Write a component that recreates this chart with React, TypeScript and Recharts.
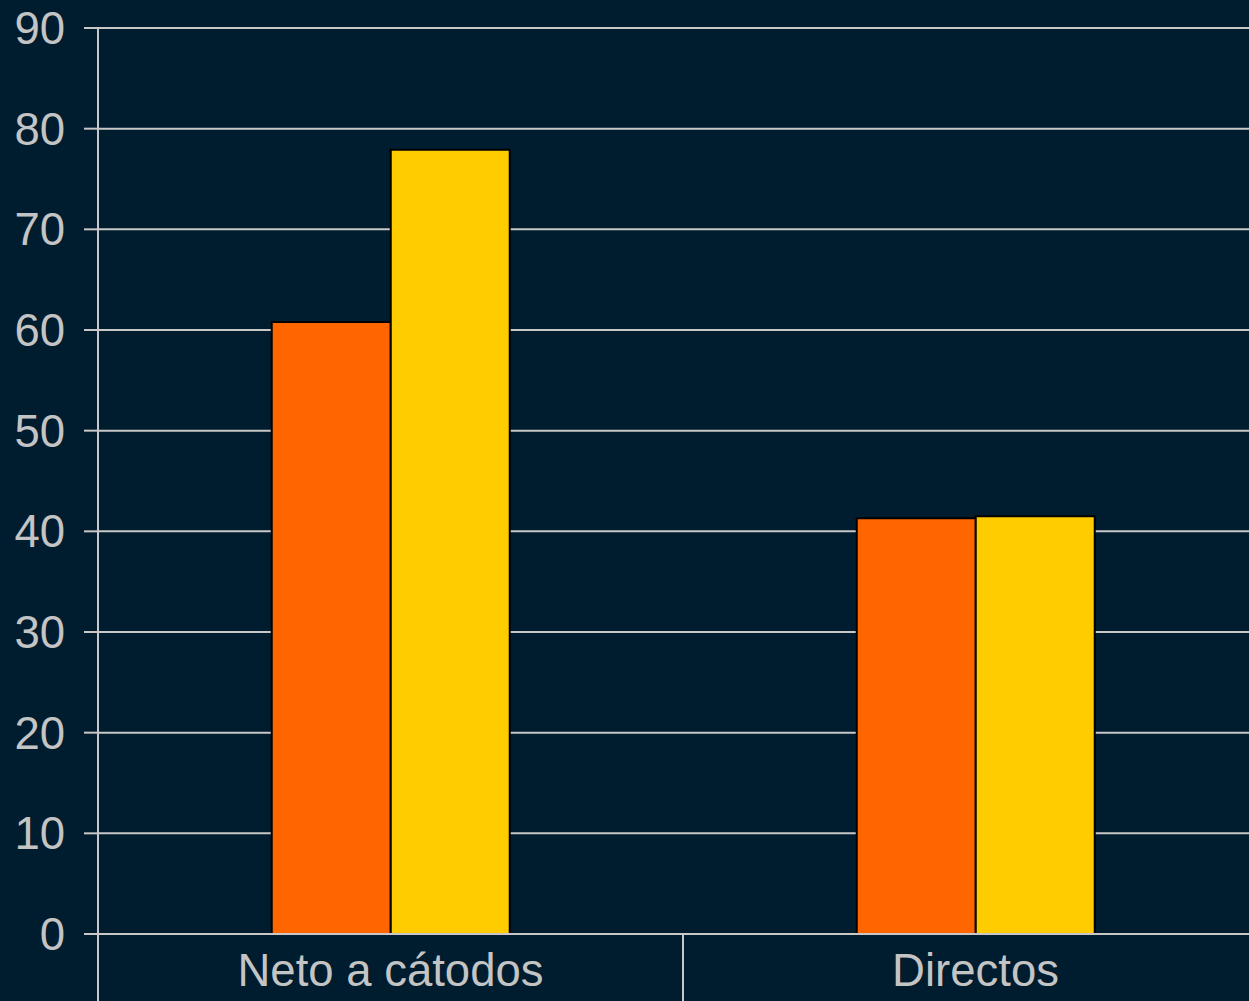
import React from 'react';
import { BarChart, Bar, XAxis, YAxis, CartesianGrid } from 'recharts';

const categories = ['Neto a cátodos', 'Directos'];
const seriesOrange = [60.8, 41.3];
const seriesYellow = [77.9, 41.5];
const yTicks = [0, 10, 20, 30, 40, 50, 60, 70, 80, 90];

const data = categories.map((name, i) => ({ name, a: seriesOrange[i], b: seriesYellow[i] }));

const BG = '#001c2f';
const LINE = '#c8c8c8';
const TEXT = '#c4c4c4';
const FONT = '"Liberation Sans", Arial, sans-serif';

const XTick = (props: any) => {
  const { x, y, payload, width, index } = props;
  const band = width / categories.length;
  const left = x - band / 2;
  const right = x + band / 2;
  return (
    <g>
      <line x1={left} x2={left} y1={y} y2={y + 70} stroke={LINE} strokeWidth={2} />
      {index === categories.length - 1 && (
        <line x1={right} x2={right} y1={y} y2={y + 70} stroke={LINE} strokeWidth={2} />
      )}
      <text x={x} y={y + 52} textAnchor="middle" fill={TEXT} fontSize={45.5} fontFamily={FONT}>
        {payload.value}
      </text>
    </g>
  );
};

export default function App() {
  return (
    <div style={{ position: 'absolute', left: 0, top: 0, width: 1249, height: 1001, overflow: 'hidden', background: BG }}>
      <BarChart
        width={1290}
        height={1001}
        data={data}
        margin={{ top: 28, right: 22, left: 0, bottom: 0 }}
        barCategoryGap="29.7%"
        barGap={0}
      >
        <CartesianGrid horizontal vertical={false} stroke={LINE} strokeWidth={2} />
        <XAxis
          dataKey="name"
          height={67}
          interval={0}
          tickSize={0}
          tickMargin={0}
          axisLine={{ stroke: LINE, strokeWidth: 2 }}
          tickLine={false}
          tick={<XTick />}
        />
        <YAxis
          width={98}
          domain={[0, 90]}
          ticks={yTicks}
          interval={0}
          tickSize={14}
          tickMargin={19}
          axisLine={{ stroke: LINE, strokeWidth: 2 }}
          tickLine={{ stroke: LINE, strokeWidth: 2 }}
          tick={{ fill: TEXT, fontSize: 45.5, fontFamily: FONT }}
        />
        <Bar dataKey="a" fill="#ff6600" stroke="#000000" strokeWidth={2} isAnimationActive={false} />
        <Bar dataKey="b" fill="#ffcc00" stroke="#000000" strokeWidth={2} isAnimationActive={false} />
      </BarChart>
    </div>
  );
}
